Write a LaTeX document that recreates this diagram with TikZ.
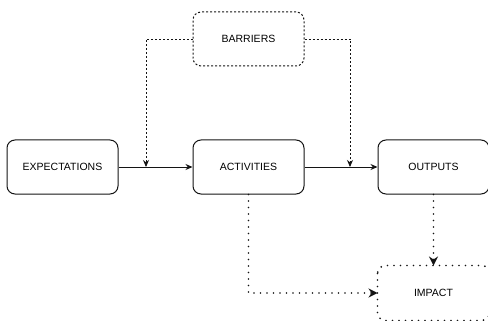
\documentclass[tikz,border=0pt]{standalone}
\usepackage{fontspec}
\setmainfont{Liberation Sans}
\usetikzlibrary{positioning, arrows.meta}
\definecolor{linecol}{RGB}{20,20,20}

\begin{document}
\begin{tikzpicture}[x=1pt, y=-1pt,
        box/.style={draw=linecol, line width=1pt, rounded corners=8pt, minimum width=111pt, minimum height=54pt, font=\fontsize{10.5}{12}\selectfont, inner sep=0pt},
        flow/.style={draw=linecol, line width=1pt, -{Stealth[length=7pt, width=6pt]}},
        link/.style={draw=linecol, line width=0.9pt, dash pattern=on 2pt off 2pt, -{Stealth[length=7pt, width=6pt]}},
        dots/.style={draw=linecol, line width=1.9pt, line cap=round, dash pattern=on 0pt off 6.5pt, -{Stealth[length=9pt, width=9pt, inset=3pt, line cap=butt]}}]
        \useasboundingbox (0,0) rectangle (488,321);
        % Cajas
        \node[box] (exp) at (62.5,167) {EXPECTATIONS};
        \node[box] (act) at (248.5,167) {ACTIVITIES};
        \node[box] (out) at (433.5,167) {OUTPUTS};
        \node[box, dash pattern=on 2pt off 2pt] (bar) at (248.5,39) {BARRIERS};
        \node[box, draw=none] (imp) at (433.5,293) {IMPACT};
        \draw[linecol, line width=1.9pt, line cap=round, dash pattern=on 0pt off 6.5pt, rounded corners=8pt] (imp.north west) rectangle (imp.south east);
        
        % Flujo principal
        \draw[flow] (exp) -- (act);
        \draw[flow] (act) -- (out);
        
        % Barreras
        \coordinate (b1) at (146,167);
        \coordinate (b2) at (350,167);
        \draw[link] (bar.west) -| (b1);
        \draw[link] (bar.east) -| (b2);
        
        % Impacto
        \draw[dots] (act.south) |- (imp.west);
        \draw[dots] (out.south) -- (imp.north);
    \end{tikzpicture}
\end{document}
